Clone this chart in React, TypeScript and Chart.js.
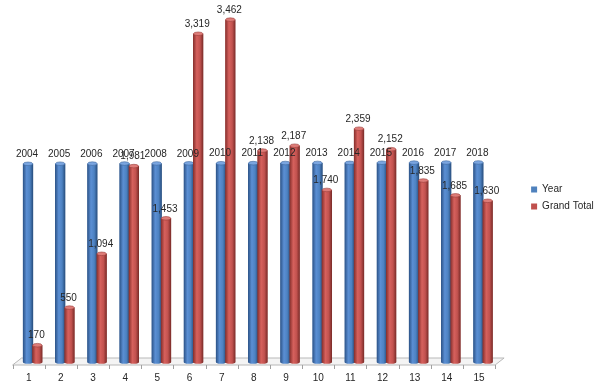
import React, { useEffect, useRef } from "react";
import { Chart, registerables } from "chart.js";

Chart.register(...registerables);

const categories = ["1", "2", "3", "4", "5", "6", "7", "8", "9", "10", "11", "12", "13", "14", "15"];
const yearValues = [2004, 2005, 2006, 2007, 2008, 2009, 2010, 2011, 2012, 2013, 2014, 2015, 2016, 2017, 2018];
const grandTotalValues = [170, 550, 1094, 1981, 1453, 3319, 3462, 2138, 2187, 1740, 2359, 2152, 1835, 1685, 1630];
const seriesNames = ["Year", "Grand Total"];
const yMax = 3600;

const FONT = "'Liberation Sans', Arial, sans-serif";
const BLUE = "#4F81BD";
const RED = "#C0504D";

const shades: Record<number, { stops: string[]; cap: string; capEdge: string }> = {
  0: { stops: ["#31598f", "#5b8fd4", "#4d82c2", "#2c5384"], cap: "#7aa5e0", capEdge: "#3d679c" },
  1: { stops: ["#8e3431", "#d6615d", "#c2524f", "#82302d"], cap: "#de7c78", capEdge: "#9a3c39" },
};

const floorPlugin = {
  id: "floor",
  beforeDatasetsDraw(chart: any) {
    const { ctx, chartArea } = chart;
    const { left, right, bottom } = chartArea;
    const n = categories.length;
    const cw = (right - left) / n;
    const fy = bottom + 3;
    const by = bottom - 4;
    ctx.save();
    ctx.beginPath();
    ctx.moveTo(left - 4, fy);
    ctx.lineTo(right - 4, fy);
    ctx.lineTo(right + 5, by);
    ctx.lineTo(left + 5, by);
    ctx.closePath();
    ctx.fillStyle = "#f4f4f4";
    ctx.fill();
    ctx.strokeStyle = "#b8b8b8";
    ctx.lineWidth = 1;
    ctx.stroke();
    ctx.beginPath();
    for (let i = 0; i <= n; i++) {
      const x = Math.round(left - 4 + i * cw) + 0.5;
      ctx.moveTo(x, fy);
      ctx.lineTo(x, fy + 4);
    }
    ctx.strokeStyle = "#a0a0a0";
    ctx.stroke();
    ctx.restore();
  },
};

function drawLabels(chart: any, index: number) {
  const meta = chart.getDatasetMeta(index);
  const data = chart.data.datasets[index].data as number[];
  const ctx = chart.ctx;
  ctx.save();
  ctx.font = `10px ${FONT}`;
  ctx.fillStyle = "#262626";
  ctx.textAlign = "center";
  ctx.textBaseline = "middle";
  meta.data.forEach((el: any, i: number) => {
    const { x, y } = el.getProps(["x", "y"], true);
    const v = data[i];
    const txt = index === 0 ? String(v) : v.toLocaleString("en-US");
    ctx.fillText(txt, x - 1, y - 9.5);
  });
  ctx.restore();
}

function drawCylinders(chart: any, idx: number) {
  const { ctx } = chart;
  const sh = shades[idx];
  chart.getDatasetMeta(idx).data.forEach((el: any) => {
    const { x, y, base, width } = el.getProps(["x", "y", "base", "width"], true);
    const l = x - width / 2;
    const g = ctx.createLinearGradient(l, 0, l + width, 0);
    g.addColorStop(0, sh.stops[0]);
    g.addColorStop(0.35, sh.stops[1]);
    g.addColorStop(0.7, sh.stops[2]);
    g.addColorStop(1, sh.stops[3]);
    ctx.save();
    ctx.fillStyle = g;
    ctx.beginPath();
    ctx.moveTo(l - 0.5, y);
    ctx.lineTo(l - 0.5, base);
    ctx.ellipse(x, base, width / 2 + 0.5, 1.8, 0, Math.PI, 0, true);
    ctx.lineTo(l + width + 0.5, y);
    ctx.closePath();
    ctx.fill();
    ctx.beginPath();
    ctx.ellipse(x, y, width / 2, 1.8, 0, 0, Math.PI * 2);
    ctx.fillStyle = sh.cap;
    ctx.fill();
    ctx.strokeStyle = sh.capEdge;
    ctx.lineWidth = 0.6;
    ctx.stroke();
    ctx.restore();
  });
}

const cylinderPlugin = {
  id: "cylinder",
  afterDatasetsDraw(chart: any) {
    drawCylinders(chart, 0);
    drawCylinders(chart, 1);
    drawLabels(chart, 0);
    drawLabels(chart, 1);
  },
};

export default function App() {
  const ref = useRef<HTMLCanvasElement>(null);
  useEffect(() => {
    if (!ref.current) return;
    const chart = new Chart(ref.current, {
      type: "bar",
      data: {
        labels: categories,
        datasets: [
          {
            label: seriesNames[0],
            data: yearValues,
            backgroundColor: BLUE,
            categoryPercentage: 0.58,
            barPercentage: 1,
          },
          {
            label: seriesNames[1],
            data: grandTotalValues,
            backgroundColor: RED,
            categoryPercentage: 0.58,
            barPercentage: 1,
          },
        ],
      },
      options: {
        animation: false,
        responsive: true,
        maintainAspectRatio: false,
        layout: { padding: { left: 16.6, right: -3.8, top: 6, bottom: 0 } },
        plugins: {
          tooltip: { enabled: false },
          legend: {
            position: "right",
            align: "center",
            labels: {
              boxWidth: 6,
              boxHeight: 6,
              padding: 7,
              color: "#262626",
              font: { family: FONT, size: 10 },
            },
          },
        },
        scales: {
          x: {
            grid: { display: false, drawTicks: false },
            border: { display: false },
            ticks: {
              padding: 10,
              labelOffset: -4,
              color: "#262626",
              font: { family: FONT, size: 10 },
              maxRotation: 0,
              autoSkip: false,
            },
            afterFit: (s: any) => {
              s.height = 28;
            },
          },
          y: {
            position: "right",
            min: 0,
            max: yMax,
            grid: { display: false, drawTicks: false },
            border: { display: false },
            ticks: { display: false },
            afterFit: (s: any) => {
              s.width = 25;
            },
          },
        },
      },
      plugins: [floorPlugin, cylinderPlugin],
    });
    return () => chart.destroy();
  }, []);
  return (
    <div style={{ position: "absolute", left: 0, top: 0, width: 600, height: 390, background: "#fff" }}>
      <canvas ref={ref} />
    </div>
  );
}
